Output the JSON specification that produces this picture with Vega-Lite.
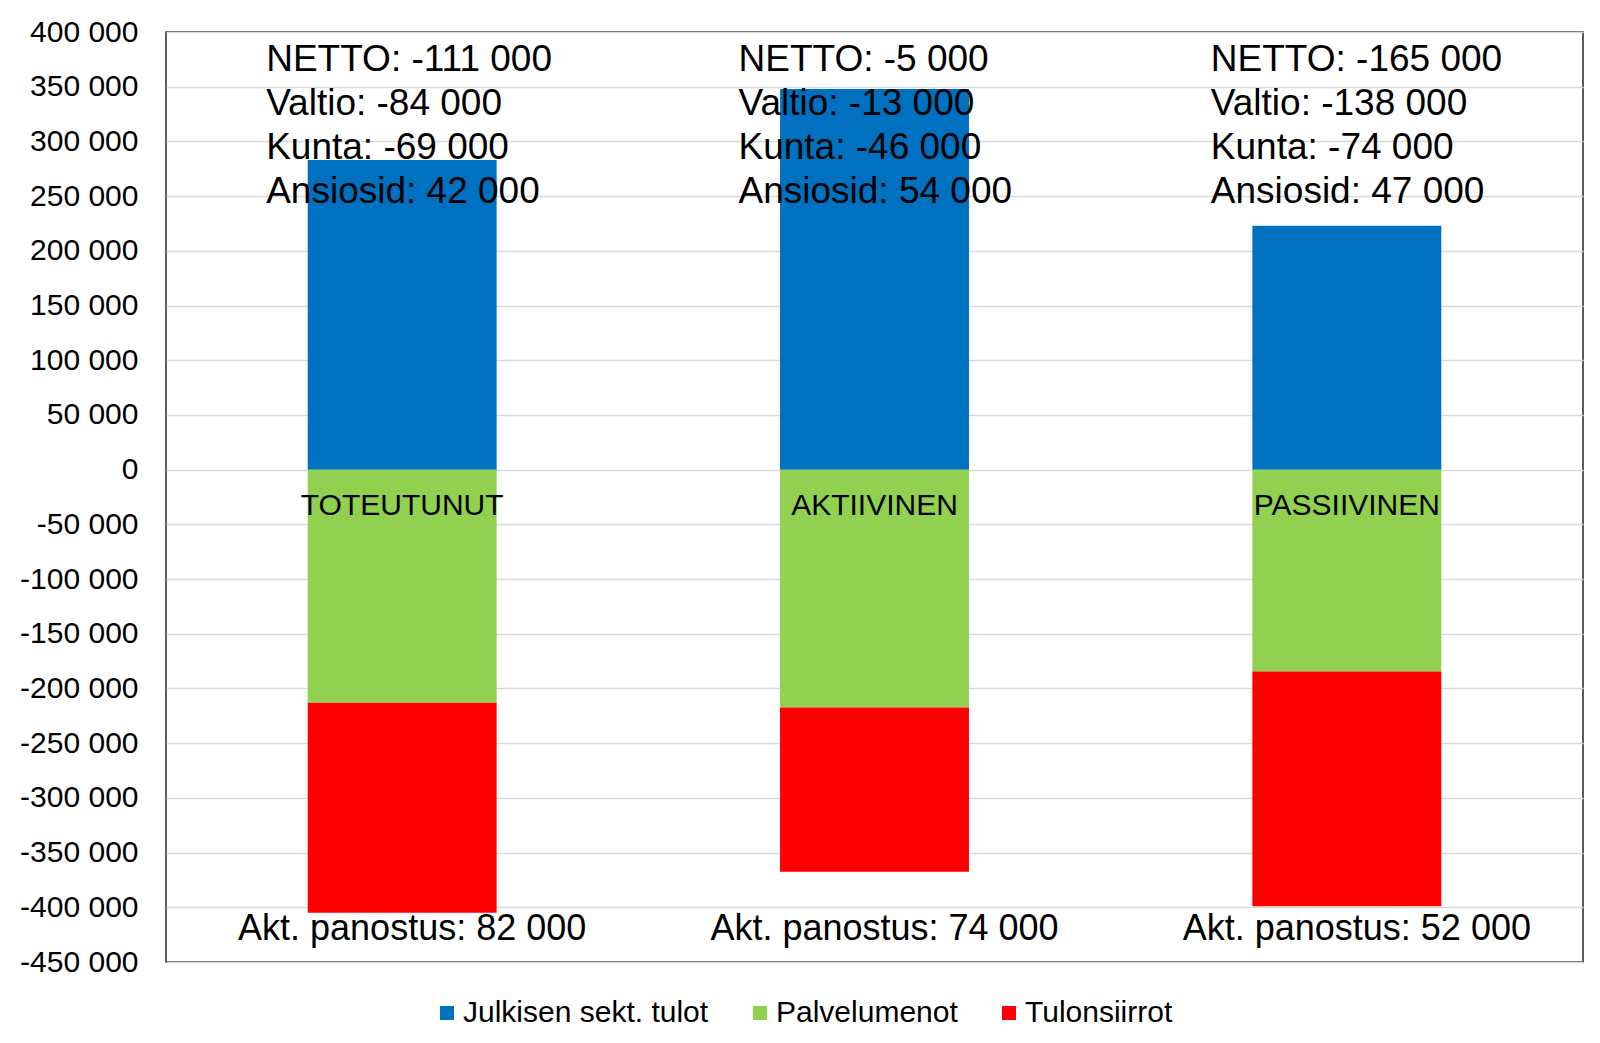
{
  "$schema": "https://vega.github.io/schema/vega-lite/v6.json",
  "width": 1417,
  "height": 930,
  "autosize": {"type": "none"},
  "padding": {"left": 166, "top": 32, "right": 17, "bottom": 81},
  "background": "white",
  "config": {
    "font": "Liberation Sans",
    "view": {"stroke": "#262626", "strokeWidth": 1.5},
    "locale": {"number": {"decimal": ",", "thousands": " ", "grouping": [3], "currency": ["", " €"], "minus": "-"}}
  },
  "datasets": {
    "bars": [
      {"skenaario": "TOTEUTUNUT", "erä": "Julkisen sekt. tulot", "arvo": 283000},
      {"skenaario": "TOTEUTUNUT", "erä": "Palvelumenot", "arvo": -213000},
      {"skenaario": "TOTEUTUNUT", "erä": "Tulonsiirrot", "arvo": -192000},
      {"skenaario": "AKTIIVINEN", "erä": "Julkisen sekt. tulot", "arvo": 348000},
      {"skenaario": "AKTIIVINEN", "erä": "Palvelumenot", "arvo": -217500},
      {"skenaario": "AKTIIVINEN", "erä": "Tulonsiirrot", "arvo": -150000},
      {"skenaario": "PASSIIVINEN", "erä": "Julkisen sekt. tulot", "arvo": 223000},
      {"skenaario": "PASSIIVINEN", "erä": "Palvelumenot", "arvo": -184500},
      {"skenaario": "PASSIIVINEN", "erä": "Tulonsiirrot", "arvo": -214500}
    ],
    "notes": [
      {"skenaario": "TOTEUTUNUT", "rivit": ["NETTO: -111 000", "Valtio: -84 000", "Kunta: -69 000", "Ansiosid: 42 000"], "akt": "Akt. panostus: 82 000"},
      {"skenaario": "AKTIIVINEN", "rivit": ["NETTO: -5 000", "Valtio: -13 000", "Kunta: -46 000", "Ansiosid: 54 000"], "akt": "Akt. panostus: 74 000"},
      {"skenaario": "PASSIIVINEN", "rivit": ["NETTO: -165 000", "Valtio: -138 000", "Kunta: -74 000", "Ansiosid: 47 000"], "akt": "Akt. panostus: 52 000"}
    ]
  },
  "encoding": {
    "x": {
      "field": "skenaario", "type": "nominal",
      "sort": ["TOTEUTUNUT", "AKTIIVINEN", "PASSIIVINEN"],
      "scale": {"paddingInner": 0.6, "paddingOuter": 0.3},
      "axis": null
    }
  },
  "layer": [
    {
      "data": {"name": "bars"},
      "mark": {"type": "bar"},
      "encoding": {
        "y": {
          "field": "arvo", "type": "quantitative", "stack": "zero",
          "scale": {"domain": [-450000, 400000], "nice": false, "zero": false},
          "axis": {
            "title": null,
            "values": [400000, 350000, 300000, 250000, 200000, 150000, 100000, 50000, 0, -50000, -100000, -150000, -200000, -250000, -300000, -350000, -400000, -450000],
            "format": ",d",
            "domain": false, "ticks": false,
            "labelPadding": 28, "labelFontSize": 30, "labelColor": "#000000",
            "labelFont": "Liberation Sans",
            "grid": true, "gridColor": "#d9d9d9", "gridWidth": 1.5
          }
        },
        "color": {
          "field": "erä", "type": "nominal",
          "scale": {"domain": ["Julkisen sekt. tulot", "Palvelumenot", "Tulonsiirrot"], "range": ["#0070C0", "#92D050", "#FF0000"]},
          "legend": {
            "title": null, "orient": "none", "direction": "horizontal",
            "legendX": 266, "legendY": 966,
            "symbolType": "square", "symbolSize": 196, "symbolStrokeWidth": 0,
            "labelFontSize": 30, "labelFont": "Liberation Sans", "labelColor": "#000000",
            "labelLimit": 0,
            "labelOffset": 1, "columnPadding": 36, "padding": 0
          }
        },
        "order": {"field": "erä", "sort": "ascending"}
      }
    },
    {
      "data": {"name": "notes"},
      "mark": {"type": "text", "align": "left", "baseline": "top", "dx": -136, "fontSize": 37, "lineHeight": 44, "color": "#000000"},
      "encoding": {
        "y": {"datum": 391000, "type": "quantitative"},
        "text": {"field": "rivit", "type": "nominal"}
      }
    },
    {
      "data": {"name": "notes"},
      "mark": {"type": "text", "align": "center", "baseline": "middle", "dy": 36, "fontSize": 30, "color": "#000000"},
      "encoding": {
        "y": {"datum": 0, "type": "quantitative"},
        "text": {"field": "skenaario", "type": "nominal"}
      }
    },
    {
      "data": {"name": "notes"},
      "mark": {"type": "text", "align": "center", "baseline": "middle", "dx": 10, "dy": -33, "fontSize": 36, "color": "#000000"},
      "encoding": {
        "y": {"datum": -450000, "type": "quantitative"},
        "text": {"field": "akt", "type": "nominal"}
      }
    }
  ]
}
